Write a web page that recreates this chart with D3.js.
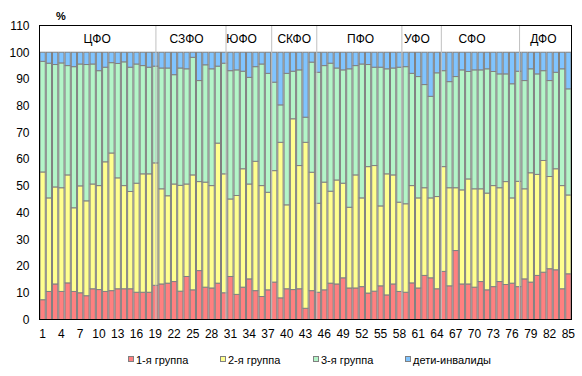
<!DOCTYPE html>
<html>
<head>
<meta charset="utf-8">
<script src="https://cdn.jsdelivr.net/npm/d3@7"></script>
<style>
  html, body { margin: 0; padding: 0; background: #fff; }
  svg { display: block; font-family: Arial, "Liberation Sans", sans-serif; }
</style>
</head>
<body>
<svg id="chart" width="582" height="376"></svg>
<script>
// ---------- DATA ----------
const categories = d3.range(1, 86);
const group1 = [7.4,10.5,13.3,10.5,13.7,10.5,10.0,8.9,11.5,11.2,10.5,10.8,11.5,11.5,11.5,10.2,10.2,10.2,12.8,13.3,13.6,14.2,10.6,16.1,11.1,18.3,12.1,11.8,13.6,10.0,16.1,9.4,12.1,15.2,10.8,8.6,11.1,14.0,8.1,11.5,11.2,11.5,4.2,10.8,10.2,11.1,13.6,13.3,15.6,11.8,11.8,12.3,9.9,10.6,12.6,9.2,13.3,10.5,10.2,13.7,11.8,16.5,15.6,11.5,18.0,12.6,25.8,13.3,13.3,12.1,14.2,11.1,12.3,14.2,13.1,13.6,12.3,15.2,14.0,16.5,17.7,19.0,18.6,11.5,17.1];
const group2 = [47.8,35.0,36.3,38.8,40.4,31.3,40.0,35.5,39.2,38.9,48.5,51.5,41.5,38.6,36.4,40.8,44.3,44.3,45.8,35.6,32.7,36.5,39.6,34.6,43.0,33.3,39.3,38.3,52.4,44.5,29.0,37.0,44.3,35.5,48.4,41.5,36.5,41.7,58.2,31.4,63.9,46.1,62.1,44.3,33.3,40.3,34.4,38.9,35.4,30.2,42.3,33.2,47.3,47.0,29.9,45.3,40.8,33.4,33.1,36.4,33.7,32.8,29.9,34.5,39.2,36.7,23.5,35.2,39.3,36.8,34.7,36.2,37.8,35.1,38.5,31.9,39.4,33.7,40.9,37.8,41.8,34.5,37.8,38.6,29.5];
const group3 = [41.4,50.4,45.8,46.7,40.9,52.8,45.6,51.0,44.9,43.0,35.4,33.8,42.8,46.3,46.5,44.6,40.5,39.9,36.2,45.2,47.8,40.9,43.9,43.1,44.0,37.8,43.9,43.7,28.8,41.4,48.0,47.0,36.5,39.9,35.4,45.5,44.5,33.1,14.0,49.2,17.8,35.8,9.4,41.2,49.0,43.6,47.9,41.9,42.4,51.8,40.9,50.1,38.2,36.8,51.9,39.3,40.0,50.5,51.3,42.0,45.4,38.6,38.0,46.3,35.9,39.7,41.6,44.9,40.2,44.5,44.5,46.5,42.7,42.6,40.3,42.7,41.2,40.5,38.9,37.6,33.6,35.9,36.1,43.7,39.7];
const disabledChildren = [3.4,4.1,4.6,4.0,5.0,5.4,4.4,4.6,4.4,6.9,5.6,3.9,4.2,3.6,5.6,4.4,5.0,5.6,5.2,5.9,5.9,8.4,5.9,6.2,1.9,10.6,4.7,6.2,5.2,4.1,6.9,6.6,7.1,9.4,5.4,4.4,7.9,11.2,19.7,7.9,7.1,6.6,24.3,3.7,7.5,5.0,4.1,5.9,6.6,6.2,5.0,4.4,4.6,5.6,5.6,6.2,5.9,5.6,5.4,7.9,9.1,12.1,16.5,7.7,6.9,11.0,9.1,6.6,7.2,6.6,6.6,6.2,7.2,8.1,8.1,11.8,7.1,10.6,6.2,8.1,6.9,10.6,7.5,6.2,13.7];
const seriesNames = ["1-я группа", "2-я группа", "3-я группа", "дети-инвалиды"];
const seriesColors = ["#FF8080", "#FFFF8F", "#B3F5C8", "#80C4FF"];
const yTicks = [0,10,20,30,40,50,60,70,80,90,100,110];
const xTicks = [1,4,7,10,13,16,19,22,25,28,31,34,37,40,43,46,49,52,55,58,61,64,67,70,73,76,79,82,85];
// federal districts: label, label position and right boundary in bar units
const districts = ["ЦФО","СЗФО","ЮФО","СКФО","ПФО","УФО","СФО","ДФО"];
const districtLabelPos = [9.2, 23.5, 32.3, 40.7, 51.3, 60.3, 69.1, 80.5];
const districtBounds = [18.6, 29.8, 37.1, 44.3, 57.9, 64.2, 76.7];

// ---------- LAYOUT ----------
const L = 39.5, R = 571.5, T = 25.5, B = 319.5;
const svg = d3.select("#chart");

const x = d3.scaleBand().domain(categories).range([L, R]).padding(0);
const u = d3.scaleLinear().domain([0, 85]).range([L, R]);
const y = d3.scaleLinear().domain([0, 110]).range([B, T]);

const rows = categories.map((c, i) => ({
  cat: c, s0: group1[i], s1: group2[i], s2: group3[i], s3: disabledChildren[i]
}));
const stack = d3.stack().keys(["s0","s1","s2","s3"]);
const stacked = stack(rows);

// bars
const gBars = svg.append("g");
stacked.forEach((layer, li) => {
  gBars.append("g")
    .attr("fill", seriesColors[li])
    .attr("stroke", "#808080")
    .attr("stroke-width", 1)
    .selectAll("rect")
    .data(layer)
    .join("rect")
    .attr("x", d => x(d.data.cat) + 0.5)
    .attr("width", x.bandwidth() - 1)
    .attr("y", d => y(d[1]))
    .attr("height", d => y(d[0]) - y(d[1]));
});

// district separators
svg.append("g").selectAll("line")
  .data(districtBounds)
  .join("line")
  .attr("x1", d => u(d)).attr("x2", d => u(d))
  .attr("y1", T).attr("y2", B)
  .attr("stroke", "#C0C0C0")
  .attr("stroke-width", 1);

// district labels
svg.append("g").selectAll("text")
  .data(districts)
  .join("text")
  .attr("x", (d, i) => u(districtLabelPos[i]))
  .attr("y", 43)
  .attr("text-anchor", "middle")
  .attr("font-size", 12)
  .attr("fill", "#000")
  .text(d => d);

// frame
svg.append("rect")
  .attr("x", L).attr("y", T)
  .attr("width", R - L).attr("height", B - T)
  .attr("fill", "none").attr("stroke", "#000").attr("stroke-width", 1);

// y axis
const yAxis = svg.append("g")
  .attr("transform", `translate(${L},0)`)
  .call(d3.axisLeft(y).tickValues(yTicks).tickSize(0).tickPadding(10));
yAxis.select(".domain").remove();
yAxis.selectAll("text").attr("font-size", 12).attr("fill", "#000")
  .attr("font-family", "Arial, 'Liberation Sans', sans-serif");

// x axis
const xAxis = svg.append("g")
  .attr("transform", `translate(0,${B})`)
  .call(d3.axisBottom(x).tickValues(xTicks).tickSize(0).tickPadding(10));
xAxis.select(".domain").remove();
xAxis.selectAll("text").attr("font-size", 12).attr("fill", "#000")
  .attr("font-family", "Arial, 'Liberation Sans', sans-serif");

// % label
svg.append("text")
  .attr("x", 61).attr("y", 20)
  .attr("text-anchor", "middle")
  .attr("font-size", 11)
  .attr("font-weight", "bold")
  .text("%");

// legend
const legendX = [128, 220, 313, 405];
const lg = svg.append("g").selectAll("g")
  .data(seriesNames)
  .join("g")
  .attr("transform", (d, i) => `translate(${legendX[i]},356)`);
lg.append("rect")
  .attr("x", 0.5).attr("y", 0.5)
  .attr("width", 5).attr("height", 5)
  .attr("fill", (d, i) => seriesColors[i])
  .attr("stroke", "#808080");
lg.append("text")
  .attr("x", 8).attr("y", 7.5)
  .attr("font-size", 11)
  .attr("fill", "#000")
  .text(d => d);
</script>
</body>
</html>
